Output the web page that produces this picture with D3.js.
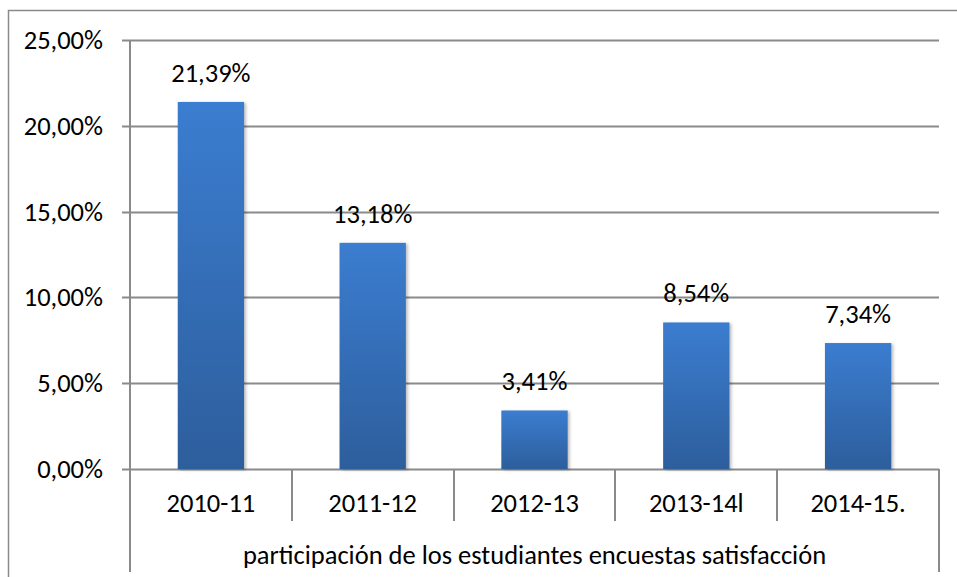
<!DOCTYPE html>
<html>
<head>
<meta charset="utf-8">
<script src="https://cdn.jsdelivr.net/npm/d3@7"></script>
<style>
  body { margin: 0; background: #fff; }
  text { font-family: Carlito, Calibri, Lato, sans-serif; fill: #000; }
</style>
</head>
<body>
<div id="chart"></div>
<script>
const categories = ["2010-11", "2011-12", "2012-13", "2013-14l", "2014-15."];
const values = [0.2139, 0.1318, 0.0341, 0.0854, 0.0734];
const yTicks = [0, 0.05, 0.10, 0.15, 0.20, 0.25];
const axisTitle = "participación de los estudiantes encuestas satisfacción";

const width = 957, height = 577;
const plotLeft = 130, plotRight = 939, plotTop = 40, plotBottom = 469;
const fontSize = 26.5;
const lineColor = "#8a8a8a";

const svg = d3.select("#chart")
    .append("svg")
    .attr("width", width)
    .attr("height", height);

const fmt = v => d3.format(".2f")(v * 100).replace(".", ",") + "%";

const x = d3.scaleBand()
    .domain(categories)
    .range([plotLeft, plotRight])
    .padding(0);

const y = d3.scaleLinear()
    .domain([0, 0.25])
    .range([plotBottom, plotTop]);

// outer frame (top and left only visible)
svg.append("path")
    .attr("d", `M8.5,${height} V10.5 H${width}`)
    .attr("fill", "none")
    .attr("stroke", lineColor)
    .attr("stroke-width", 1.5);

const grad = svg.append("defs")
    .append("linearGradient")
    .attr("id", "barGrad")
    .attr("x1", "0%").attr("y1", "0%")
    .attr("x2", "0%").attr("y2", "100%");
grad.append("stop").attr("offset", "0%").attr("stop-color", "#3b7dd0");
grad.append("stop").attr("offset", "100%").attr("stop-color", "#2d5e9c");

// gridlines
svg.append("g")
    .selectAll("line")
    .data(yTicks)
    .enter().append("line")
    .attr("x1", plotLeft - 8)
    .attr("x2", plotRight)
    .attr("y1", d => Math.round(y(d)) + 0.5)
    .attr("y2", d => Math.round(y(d)) + 0.5)
    .attr("stroke", lineColor)
    .attr("stroke-width", 2);

// y tick labels
svg.append("g")
    .selectAll("text")
    .data(yTicks)
    .enter().append("text")
    .attr("x", 103)
    .attr("y", d => y(d) + 9)
    .attr("text-anchor", "end")
    .style("font-size", fontSize + "px")
    .text(fmt);

// bars
const barW = x.bandwidth() * 0.41;
svg.append("g")
    .selectAll("rect")
    .data(values)
    .enter().append("rect")
    .attr("x", (d, i) => x(categories[i]) + (x.bandwidth() - barW) / 2)
    .attr("y", d => y(d))
    .attr("width", barW)
    .attr("height", d => y(0) - y(d))
    .attr("fill", "url(#barGrad)")
    .style("filter", "drop-shadow(2px 1px 1.5px rgba(0,0,0,0.25))");

// value labels
svg.append("g")
    .selectAll("text")
    .data(values)
    .enter().append("text")
    .attr("x", (d, i) => x(categories[i]) + x.bandwidth() / 2)
    .attr("y", d => y(d) - 20)
    .attr("text-anchor", "middle")
    .style("font-size", fontSize + "px")
    .text(fmt);

// category table lines
svg.append("line")
    .attr("x1", plotLeft).attr("x2", plotLeft)
    .attr("y1", plotTop).attr("y2", 572)
    .attr("stroke", lineColor).attr("stroke-width", 2);
svg.append("line")
    .attr("x1", plotRight).attr("x2", plotRight)
    .attr("y1", plotBottom).attr("y2", 572)
    .attr("stroke", lineColor).attr("stroke-width", 2);
svg.append("g")
    .selectAll("line")
    .data(categories.slice(1))
    .enter().append("line")
    .attr("x1", d => Math.round(x(d)))
    .attr("x2", d => Math.round(x(d)))
    .attr("y1", plotBottom)
    .attr("y2", 521)
    .attr("stroke", lineColor)
    .attr("stroke-width", 2);

// category labels
svg.append("g")
    .selectAll("text")
    .data(categories)
    .enter().append("text")
    .attr("x", d => x(d) + x.bandwidth() / 2)
    .attr("y", 512)
    .attr("text-anchor", "middle")
    .style("font-size", fontSize + "px")
    .text(d => d);

svg.append("text")
    .attr("x", (plotLeft + plotRight) / 2)
    .attr("y", 564)
    .attr("text-anchor", "middle")
    .style("font-size", fontSize + "px")
    .text(axisTitle);
</script>
</body>
</html>
